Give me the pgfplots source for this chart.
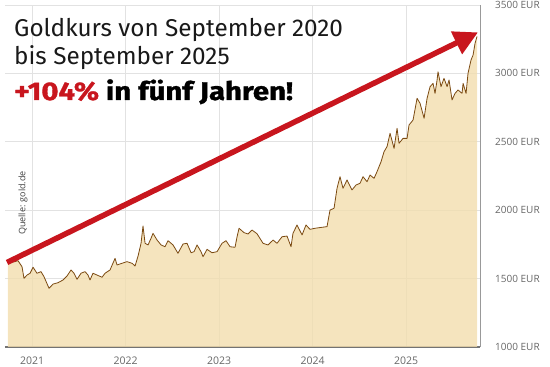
\documentclass[border=0pt]{standalone}
\usepackage{pgfplots}
\pgfplotsset{compat=1.18}
\usepackage{pgfplotstable}
\usepackage{fontspec}
\setmainfont{Open Sans}
\newfontfamily\titlefont{Fira Sans}
\newfontfamily\heavyfont{Fira Sans}[UprightFont=*, BoldFont=* Bold, BoldFeatures={FakeBold=1.2}]
\usetikzlibrary{arrows.meta}
\definecolor{goldfill}{HTML}{F2DDAE}
\definecolor{goldline}{HTML}{7B4A12}
\definecolor{arrowred}{HTML}{C8161E}
\definecolor{gridc}{HTML}{E2E2E2}
\definecolor{ticktext}{HTML}{666666}

\pgfplotstableread{
x y
2020.743 1616
2020.818 1624
2020.850 1631
2020.893 1587
2020.914 1502
2020.947 1526
2020.979 1539
2021.011 1583
2021.053 1539
2021.096 1551
2021.128 1514
2021.182 1429
2021.225 1460
2021.278 1470
2021.332 1490
2021.374 1519
2021.417 1563
2021.449 1539
2021.481 1495
2021.524 1539
2021.567 1551
2021.599 1526
2021.620 1490
2021.652 1539
2021.695 1526
2021.749 1510
2021.781 1539
2021.834 1563
2021.888 1648
2021.909 1600
2021.963 1612
2022.016 1624
2022.070 1612
2022.102 1592
2022.134 1665
2022.166 1758
2022.187 1885
2022.209 1758
2022.241 1746
2022.273 1795
2022.294 1831
2022.337 1782
2022.380 1746
2022.422 1733
2022.455 1777
2022.508 1746
2022.561 1685
2022.615 1753
2022.658 1758
2022.701 1689
2022.733 1697
2022.765 1746
2022.807 1697
2022.829 1660
2022.872 1714
2022.925 1689
2022.979 1697
2023.032 1758
2023.075 1777
2023.118 1733
2023.171 1729
2023.193 1806
2023.214 1868
2023.267 1836
2023.310 1826
2023.353 1855
2023.406 1828
2023.471 1758
2023.524 1746
2023.578 1782
2023.620 1758
2023.674 1806
2023.727 1811
2023.770 1733
2023.791 1831
2023.834 1892
2023.888 1819
2023.930 1892
2023.973 1860
2024.027 1868
2024.102 1875
2024.155 1880
2024.187 2001
2024.230 2014
2024.262 2160
2024.294 2245
2024.326 2160
2024.369 2221
2024.422 2148
2024.465 2184
2024.508 2197
2024.540 2245
2024.583 2208
2024.615 2257
2024.658 2233
2024.690 2282
2024.733 2355
2024.765 2428
2024.797 2465
2024.829 2562
2024.872 2452
2024.904 2599
2024.925 2489
2024.968 2525
2025.011 2525
2025.032 2623
2025.075 2659
2025.118 2818
2025.150 2781
2025.193 2672
2025.225 2818
2025.257 2903
2025.289 2927
2025.310 2854
2025.332 2952
2025.342 3012
2025.374 2903
2025.406 2964
2025.439 2903
2025.460 2952
2025.492 2806
2025.524 2854
2025.556 2879
2025.599 2854
2025.610 2927
2025.642 2854
2025.663 3001
2025.695 3098
2025.717 3134
2025.738 3220
2025.759 3270
}\gold

\begin{document}
\begin{tikzpicture}
\useasboundingbox (0,0) rectangle (550pt,367pt);
\begin{axis}[
  at={(5pt,20pt)}, anchor=south west,
  scale only axis, width=475pt, height=342pt,
  xmin=2020.711, xmax=2025.791,
  ymin=1000, ymax=3500,
  axis x line*=bottom, axis y line*=right,
  axis line style={-, draw=gray!80, line width=0.8pt},
  x axis line style={draw=black!55, line width=1.2pt},
  xtick={2021,2022,2023,2024,2025},
  xticklabels={2021,2022,2023,2024,2025},
  ytick={1000,1500,2000,2500,3000,3500},
  yticklabels={1000 EUR,1500 EUR,2000 EUR,2500 EUR,3000 EUR,3500 EUR},
  major tick length=0pt,
  grid=major,
  major grid style={draw=gridc, line width=0.7pt},
  xticklabel style={font=\fontsize{10.5}{12}\selectfont, text=ticktext, anchor=north, inner sep=0pt, yshift=-10pt},
  yticklabel style={font=\fontsize{10}{12}\selectfont, text=ticktext, anchor=west, inner sep=0pt, xshift=15pt},
  clip=false,
]
\addplot[draw=none, fill=goldfill, fill opacity=0.8] table[x=x,y=y] {\gold} -- (axis cs:2025.759,1000) -- (axis cs:2020.743,1000) -- cycle;
\addplot[goldline, line width=0.8pt, line join=round] table[x=x,y=y] {\gold};
\draw[arrowred, line width=5.5pt, -{Triangle[length=24pt,width=24pt]}] (axis cs:2020.733,1618) -- (axis cs:2025.770,3300);
\end{axis}
\node[anchor=base west, inner sep=0pt, font=\titlefont\fontsize{24.3}{27}\selectfont, text=black!90] at (14pt,330pt) {Goldkurs von September 2020};
\node[anchor=base west, inner sep=0pt, font=\titlefont\fontsize{24.3}{27}\selectfont, text=black!90] at (14pt,302pt) {bis September 2025};
\node[anchor=base west, inner sep=0pt, xscale=1.15, font=\heavyfont\bfseries\fontsize{25.5}{27}\selectfont] at (14pt,267pt) {\textcolor{arrowred}{+104\%} in fünf Jahren!};
\node[rotate=90, inner sep=0pt, font=\fontsize{9}{10}\selectfont, text=black!75] at (23pt,164pt) {Quelle: gold.de};
\end{tikzpicture}
\end{document}
